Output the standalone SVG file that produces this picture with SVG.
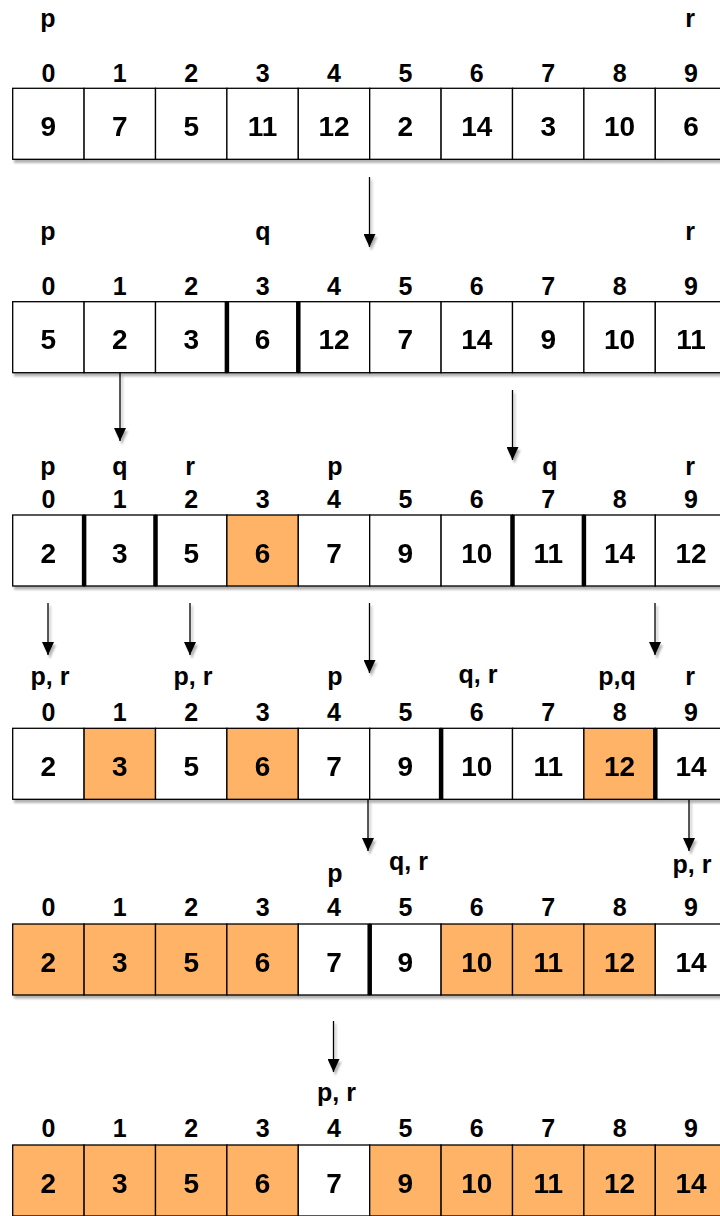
<svg xmlns="http://www.w3.org/2000/svg" width="720" height="1216" viewBox="0 0 720 1216">
<style>
.c{fill:#fff;stroke:#000;stroke-width:1.3}
.o{fill:#FFB366;stroke:#000;stroke-width:1.3}
.v{font-family:"Liberation Sans",Arial,sans-serif;font-weight:bold;font-size:28px;text-anchor:middle;fill:#000}
.i{font-family:"Liberation Sans",Arial,sans-serif;font-weight:bold;font-size:25px;text-anchor:middle;fill:#000}
.t{stroke:#000;stroke-width:4.5}
.a{stroke:#000;stroke-width:1.3;fill:none;marker-end:url(#ah)}
</style>
<defs>
<filter id="sh" x="-5%" y="-5%" width="115%" height="130%">
<feDropShadow dx="2" dy="3" stdDeviation="0.8" flood-color="#000" flood-opacity="0.3"/>
</filter>
<marker id="ah" markerUnits="userSpaceOnUse" markerWidth="13" markerHeight="12" refX="13" refY="6" orient="auto">
<path d="M0,0 L13,6 L0,12 z" fill="#000"/>
</marker>
</defs>

<!-- Row 1 -->
<g id="row1">
<g class="i"><text x="48" y="27">p</text><text x="690" y="27">r</text>
<text x="48.4" y="81.5">0</text><text x="119.8" y="81.5">1</text><text x="191.2" y="81.5">2</text><text x="262.6" y="81.5">3</text><text x="334" y="81.5">4</text><text x="405.4" y="81.5">5</text><text x="476.8" y="81.5">6</text><text x="548.2" y="81.5">7</text><text x="619.6" y="81.5">8</text><text x="691" y="81.5">9</text></g>
<g filter="url(#sh)">
<g id="r1c0"><rect class="c" x="12.7" y="88.3" width="71.4" height="71"/><text class="v" x="48.4" y="135.8">9</text></g>
<g id="r1c1"><rect class="c" x="84.1" y="88.3" width="71.4" height="71"/><text class="v" x="119.8" y="135.8">7</text></g>
<g id="r1c2"><rect class="c" x="155.5" y="88.3" width="71.4" height="71"/><text class="v" x="191.2" y="135.8">5</text></g>
<g id="r1c3"><rect class="c" x="226.9" y="88.3" width="71.4" height="71"/><text class="v" x="262.6" y="135.8">11</text></g>
<g id="r1c4"><rect class="c" x="298.3" y="88.3" width="71.4" height="71"/><text class="v" x="334" y="135.8">12</text></g>
<g id="r1c5"><rect class="c" x="369.7" y="88.3" width="71.4" height="71"/><text class="v" x="405.4" y="135.8">2</text></g>
<g id="r1c6"><rect class="c" x="441.1" y="88.3" width="71.4" height="71"/><text class="v" x="476.8" y="135.8">14</text></g>
<g id="r1c7"><rect class="c" x="512.5" y="88.3" width="71.4" height="71"/><text class="v" x="548.2" y="135.8">3</text></g>
<g id="r1c8"><rect class="c" x="583.9" y="88.3" width="71.4" height="71"/><text class="v" x="619.6" y="135.8">10</text></g>
<g id="r1c9"><rect class="c" x="655.3" y="88.3" width="71.4" height="71"/><text class="v" x="691" y="135.8">6</text></g>
</g>
</g>

<!-- Row 2 -->
<g id="row2">
<g class="i"><text x="48" y="240">p</text><text x="263" y="240">q</text><text x="690" y="240">r</text>
<text x="48.4" y="294.8">0</text><text x="119.8" y="294.8">1</text><text x="191.2" y="294.8">2</text><text x="262.6" y="294.8">3</text><text x="334" y="294.8">4</text><text x="405.4" y="294.8">5</text><text x="476.8" y="294.8">6</text><text x="548.2" y="294.8">7</text><text x="619.6" y="294.8">8</text><text x="691" y="294.8">9</text></g>
<g filter="url(#sh)">
<g id="r2c0"><rect class="c" x="12.7" y="301.7" width="71.4" height="71"/><text class="v" x="48.4" y="349.2">5</text></g>
<g id="r2c1"><rect class="c" x="84.1" y="301.7" width="71.4" height="71"/><text class="v" x="119.8" y="349.2">2</text></g>
<g id="r2c2"><rect class="c" x="155.5" y="301.7" width="71.4" height="71"/><text class="v" x="191.2" y="349.2">3</text></g>
<g id="r2c3"><rect class="c" x="226.9" y="301.7" width="71.4" height="71"/><text class="v" x="262.6" y="349.2">6</text></g>
<g id="r2c4"><rect class="c" x="298.3" y="301.7" width="71.4" height="71"/><text class="v" x="334" y="349.2">12</text></g>
<g id="r2c5"><rect class="c" x="369.7" y="301.7" width="71.4" height="71"/><text class="v" x="405.4" y="349.2">7</text></g>
<g id="r2c6"><rect class="c" x="441.1" y="301.7" width="71.4" height="71"/><text class="v" x="476.8" y="349.2">14</text></g>
<g id="r2c7"><rect class="c" x="512.5" y="301.7" width="71.4" height="71"/><text class="v" x="548.2" y="349.2">9</text></g>
<g id="r2c8"><rect class="c" x="583.9" y="301.7" width="71.4" height="71"/><text class="v" x="619.6" y="349.2">10</text></g>
<g id="r2c9"><rect class="c" x="655.3" y="301.7" width="71.4" height="71"/><text class="v" x="691" y="349.2">11</text></g>
<line class="t" x1="226.9" y1="301.7" x2="226.9" y2="372.7"/>
<line class="t" x1="298.3" y1="301.7" x2="298.3" y2="372.7"/>
</g>
</g>

<!-- Row 3 -->
<g id="row3">
<g class="i"><text x="48" y="474.5">p</text><text x="120" y="474.5">q</text><text x="190" y="474.5">r</text><text x="335" y="474.5">p</text><text x="550" y="474.5">q</text><text x="690" y="474.5">r</text>
<text x="48.4" y="508">0</text><text x="119.8" y="508">1</text><text x="191.2" y="508">2</text><text x="262.6" y="508">3</text><text x="334" y="508">4</text><text x="405.4" y="508">5</text><text x="476.8" y="508">6</text><text x="548.2" y="508">7</text><text x="619.6" y="508">8</text><text x="691" y="508">9</text></g>
<g filter="url(#sh)">
<g id="r3c0"><rect class="c" x="12.7" y="515" width="71.4" height="71"/><text class="v" x="48.4" y="562.5">2</text></g>
<g id="r3c1"><rect class="c" x="84.1" y="515" width="71.4" height="71"/><text class="v" x="119.8" y="562.5">3</text></g>
<g id="r3c2"><rect class="c" x="155.5" y="515" width="71.4" height="71"/><text class="v" x="191.2" y="562.5">5</text></g>
<g id="r3c3"><rect class="o" x="226.9" y="515" width="71.4" height="71"/><text class="v" x="262.6" y="562.5">6</text></g>
<g id="r3c4"><rect class="c" x="298.3" y="515" width="71.4" height="71"/><text class="v" x="334" y="562.5">7</text></g>
<g id="r3c5"><rect class="c" x="369.7" y="515" width="71.4" height="71"/><text class="v" x="405.4" y="562.5">9</text></g>
<g id="r3c6"><rect class="c" x="441.1" y="515" width="71.4" height="71"/><text class="v" x="476.8" y="562.5">10</text></g>
<g id="r3c7"><rect class="c" x="512.5" y="515" width="71.4" height="71"/><text class="v" x="548.2" y="562.5">11</text></g>
<g id="r3c8"><rect class="c" x="583.9" y="515" width="71.4" height="71"/><text class="v" x="619.6" y="562.5">14</text></g>
<g id="r3c9"><rect class="c" x="655.3" y="515" width="71.4" height="71"/><text class="v" x="691" y="562.5">12</text></g>
<line class="t" x1="84.1" y1="515" x2="84.1" y2="586"/>
<line class="t" x1="155.5" y1="515" x2="155.5" y2="586"/>
<line class="t" x1="512.5" y1="515" x2="512.5" y2="586"/>
<line class="t" x1="583.9" y1="515" x2="583.9" y2="586"/>
</g>
</g>

<!-- Row 4 -->
<g id="row4">
<g class="i"><text x="50" y="684.5">p, r</text><text x="193" y="684.5">p, r</text><text x="335" y="684.5">p</text><text x="478" y="682.5">q, r</text><text x="617" y="684.5">p,q</text><text x="690" y="684.5">r</text>
<text x="48.4" y="721.3">0</text><text x="119.8" y="721.3">1</text><text x="191.2" y="721.3">2</text><text x="262.6" y="721.3">3</text><text x="334" y="721.3">4</text><text x="405.4" y="721.3">5</text><text x="476.8" y="721.3">6</text><text x="548.2" y="721.3">7</text><text x="619.6" y="721.3">8</text><text x="691" y="721.3">9</text></g>
<g filter="url(#sh)">
<g id="r4c0"><rect class="c" x="12.7" y="728.3" width="71.4" height="71"/><text class="v" x="48.4" y="775.8">2</text></g>
<g id="r4c1"><rect class="o" x="84.1" y="728.3" width="71.4" height="71"/><text class="v" x="119.8" y="775.8">3</text></g>
<g id="r4c2"><rect class="c" x="155.5" y="728.3" width="71.4" height="71"/><text class="v" x="191.2" y="775.8">5</text></g>
<g id="r4c3"><rect class="o" x="226.9" y="728.3" width="71.4" height="71"/><text class="v" x="262.6" y="775.8">6</text></g>
<g id="r4c4"><rect class="c" x="298.3" y="728.3" width="71.4" height="71"/><text class="v" x="334" y="775.8">7</text></g>
<g id="r4c5"><rect class="c" x="369.7" y="728.3" width="71.4" height="71"/><text class="v" x="405.4" y="775.8">9</text></g>
<g id="r4c6"><rect class="c" x="441.1" y="728.3" width="71.4" height="71"/><text class="v" x="476.8" y="775.8">10</text></g>
<g id="r4c7"><rect class="c" x="512.5" y="728.3" width="71.4" height="71"/><text class="v" x="548.2" y="775.8">11</text></g>
<g id="r4c8"><rect class="o" x="583.9" y="728.3" width="71.4" height="71"/><text class="v" x="619.6" y="775.8">12</text></g>
<g id="r4c9"><rect class="c" x="655.3" y="728.3" width="71.4" height="71"/><text class="v" x="691" y="775.8">14</text></g>
<line class="t" x1="441.1" y1="728.3" x2="441.1" y2="799.3"/>
<line class="t" x1="655.3" y1="728.3" x2="655.3" y2="799.3"/>
</g>
</g>

<!-- Row 5 -->
<g id="row5">
<g class="i"><text x="335" y="881.5">p</text><text x="408.5" y="869.5">q, r</text><text x="692" y="872.5">p, r</text>
<text x="48.4" y="916">0</text><text x="119.8" y="916">1</text><text x="191.2" y="916">2</text><text x="262.6" y="916">3</text><text x="334" y="916">4</text><text x="405.4" y="916">5</text><text x="476.8" y="916">6</text><text x="548.2" y="916">7</text><text x="619.6" y="916">8</text><text x="691" y="916">9</text></g>
<g filter="url(#sh)">
<g id="r5c0"><rect class="o" x="12.7" y="924" width="71.4" height="71"/><text class="v" x="48.4" y="971.5">2</text></g>
<g id="r5c1"><rect class="o" x="84.1" y="924" width="71.4" height="71"/><text class="v" x="119.8" y="971.5">3</text></g>
<g id="r5c2"><rect class="o" x="155.5" y="924" width="71.4" height="71"/><text class="v" x="191.2" y="971.5">5</text></g>
<g id="r5c3"><rect class="o" x="226.9" y="924" width="71.4" height="71"/><text class="v" x="262.6" y="971.5">6</text></g>
<g id="r5c4"><rect class="c" x="298.3" y="924" width="71.4" height="71"/><text class="v" x="334" y="971.5">7</text></g>
<g id="r5c5"><rect class="c" x="369.7" y="924" width="71.4" height="71"/><text class="v" x="405.4" y="971.5">9</text></g>
<g id="r5c6"><rect class="o" x="441.1" y="924" width="71.4" height="71"/><text class="v" x="476.8" y="971.5">10</text></g>
<g id="r5c7"><rect class="o" x="512.5" y="924" width="71.4" height="71"/><text class="v" x="548.2" y="971.5">11</text></g>
<g id="r5c8"><rect class="o" x="583.9" y="924" width="71.4" height="71"/><text class="v" x="619.6" y="971.5">12</text></g>
<g id="r5c9"><rect class="c" x="655.3" y="924" width="71.4" height="71"/><text class="v" x="691" y="971.5">14</text></g>
<line class="t" x1="369.7" y1="924" x2="369.7" y2="995"/>
</g>
</g>

<!-- Row 6 -->
<g id="row6">
<g class="i"><text x="336.5" y="1100.5">p, r</text>
<text x="48.4" y="1137">0</text><text x="119.8" y="1137">1</text><text x="191.2" y="1137">2</text><text x="262.6" y="1137">3</text><text x="334" y="1137">4</text><text x="405.4" y="1137">5</text><text x="476.8" y="1137">6</text><text x="548.2" y="1137">7</text><text x="619.6" y="1137">8</text><text x="691" y="1137">9</text></g>
<g filter="url(#sh)">
<g id="r6c0"><rect class="o" x="12.7" y="1145" width="71.4" height="71"/><text class="v" x="48.4" y="1192.5">2</text></g>
<g id="r6c1"><rect class="o" x="84.1" y="1145" width="71.4" height="71"/><text class="v" x="119.8" y="1192.5">3</text></g>
<g id="r6c2"><rect class="o" x="155.5" y="1145" width="71.4" height="71"/><text class="v" x="191.2" y="1192.5">5</text></g>
<g id="r6c3"><rect class="o" x="226.9" y="1145" width="71.4" height="71"/><text class="v" x="262.6" y="1192.5">6</text></g>
<g id="r6c4"><rect class="c" x="298.3" y="1145" width="71.4" height="71"/><text class="v" x="334" y="1192.5">7</text></g>
<g id="r6c5"><rect class="o" x="369.7" y="1145" width="71.4" height="71"/><text class="v" x="405.4" y="1192.5">9</text></g>
<g id="r6c6"><rect class="o" x="441.1" y="1145" width="71.4" height="71"/><text class="v" x="476.8" y="1192.5">10</text></g>
<g id="r6c7"><rect class="o" x="512.5" y="1145" width="71.4" height="71"/><text class="v" x="548.2" y="1192.5">11</text></g>
<g id="r6c8"><rect class="o" x="583.9" y="1145" width="71.4" height="71"/><text class="v" x="619.6" y="1192.5">12</text></g>
<g id="r6c9"><rect class="o" x="655.3" y="1145" width="71.4" height="71"/><text class="v" x="691" y="1192.5">14</text></g>
</g>
</g>

<!-- Connectors -->
<g id="connectors" filter="url(#sh)">
<line class="a" x1="369.5" y1="177" x2="369.5" y2="247"/>
<line class="a" x1="120" y1="373" x2="120" y2="441"/>
<line class="a" x1="512.5" y1="390" x2="512.5" y2="460"/>
<line class="a" x1="48" y1="603" x2="48" y2="655"/>
<line class="a" x1="190" y1="603" x2="190" y2="655"/>
<line class="a" x1="369.5" y1="603" x2="369.5" y2="673"/>
<line class="a" x1="655" y1="603" x2="655" y2="655"/>
<line class="a" x1="368" y1="800" x2="368" y2="851"/>
<line class="a" x1="689" y1="800" x2="689" y2="851"/>
<line class="a" x1="333.5" y1="1021" x2="333.5" y2="1072"/>
</g>
</svg>
